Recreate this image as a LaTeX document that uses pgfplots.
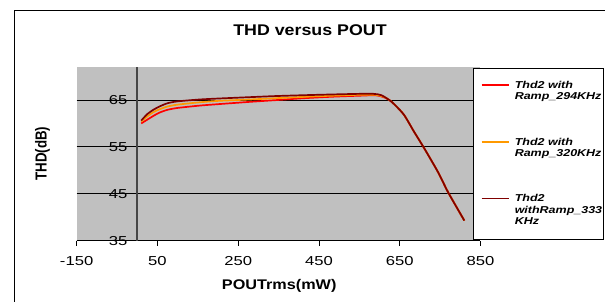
\documentclass[border=0pt]{standalone}
\usepackage{fontspec}
\setmainfont{Liberation Sans}
\newfontfamily\titlefont[FakeStretch=1.15]{Liberation Sans}
\newfontfamily\labfont[FakeStretch=1.16]{Liberation Sans}
\newfontfamily\tickfont[FakeStretch=1.28]{Liberation Sans}
\newfontfamily\legfont[FakeStretch=1.25]{Liberation Sans}
\usepackage{pgfplots}
\pgfplotsset{compat=1.18}
\usepackage{graphicx}
\definecolor{plotgray}{RGB}{192,192,192}
\definecolor{cA}{RGB}{255,0,0}
\definecolor{cB}{RGB}{255,153,0}
\definecolor{cC}{RGB}{128,0,0}
\definecolor{yaxgray}{RGB}{70,70,70}

\pgfplotstableread{
x y
10 60.0
25 60.8
40 61.6
55 62.3
75 62.9
100 63.3
155 63.8
200 64.1
280 64.6
350 65.0
400 65.3
450 65.55
500 65.75
550 65.9
590 66.0
610 65.6
630 64.6
660 61.9
685 58.3
710 54.8
745 49.6
770 45.3
810 39.3
}\tA

\pgfplotstableread{
x y
10 60.4
25 61.5
40 62.4
55 63.0
75 63.6
100 64.0
155 64.5
200 64.8
280 65.1
350 65.4
450 65.8
550 66.1
590 66.1
610 65.7
630 64.6
660 61.9
685 58.3
710 54.8
745 49.6
770 45.3
810 39.3
}\tB

\pgfplotstableread{
x y
10 60.6
25 62.0
40 62.9
55 63.6
75 64.3
100 64.7
155 65.1
200 65.3
280 65.6
350 65.85
450 66.1
550 66.3
585 66.3
605 66.0
630 64.6
660 61.9
685 58.3
710 54.8
745 49.6
770 45.3
810 39.3
}\tC

\begin{document}
\begin{tikzpicture}[x=1pt,y=1pt]
\path (0,0) rectangle (606,302);
\draw[line width=1.3pt] (14.3,0) -- (14.3,291.3) -- (606,291.3);
\node[anchor=base, inner sep=0pt, font=\titlefont\fontsize{15.5}{18}\bfseries\selectfont] at (310.3,266.3) {THD versus POUT};
\node[anchor=base, inner sep=0pt, font=\labfont\fontsize{14}{16}\bfseries\selectfont] at (279.5,12) {POUTrms(mW)};
\node[anchor=base, inner sep=0pt, rotate=90, font=\fontsize{13.3}{15}\bfseries\selectfont] at (46.7,148.3) {\scalebox{1}[1.2]{THD(dB)}};
\begin{axis}[
  at={(76.7pt,61pt)}, anchor=south west,
  scale only axis, width=404.3pt, height=174.3pt,
  xmin=-150, xmax=850, ymin=35, ymax=72.1,
  axis x line=bottom, axis y line=left,
  x axis line style={-, black, line width=0.8pt},
  y axis line style={draw=none},
  xtick={-150,50,250,450,650,850}, ytick={35,45,55,65},
  tick align=outside, major tick length=5pt,
  xtick style={black, line width=0.8pt},
  ytick style={draw=none},
  ymajorgrids, grid style={black, line width=0.8pt},
  axis background/.style={fill=plotgray},
  clip=false,
  /pgf/number format/assume math mode=true,
  ticklabel style={font=\tickfont\fontsize{13}{15}\selectfont},
  xticklabel style={inner sep=0pt, yshift=-11pt},
  yticklabel style={anchor=east, inner sep=0pt, xshift=56pt},
  legend style={at={(1.0,0.9214)}, anchor=north west, draw=none, fill=none,
    inner sep=0pt, row sep=47.3pt, column sep=5pt,
    font=\legfont\fontsize{10}{11.3}\bfseries\itshape\selectfont,
    nodes={inner sep=0pt}, cells={anchor=base west}},
  legend image code/.code={\draw[#1, line width=1.8pt] (0pt,3.3pt) -- (27.3pt,3.3pt);},
]
\draw[yaxgray, line width=1.5pt] (axis cs:0,35) -- (axis cs:0,72.1);
\draw[black, line width=0.8pt, fill=white] (axis cs:833.4,35.21) rectangle (axis cs:1155.5,71.74);
\addplot[cA, line width=1.7pt, smooth, tension=0.4] table[x=x,y=y] {\tA};
\addlegendentry{\begin{tabular}[t]{@{}l@{}}Thd2 with\\Ramp\_294KHz\end{tabular}}
\addplot[cB, line width=1.7pt, smooth, tension=0.4] table[x=x,y=y] {\tB};
\addlegendentry{\begin{tabular}[t]{@{}l@{}}Thd2 with\\Ramp\_320KHz\end{tabular}}
\addplot[cC, line width=1.7pt, smooth, tension=0.4] table[x=x,y=y] {\tC};
\addlegendentry{\begin{tabular}[t]{@{}l@{}}Thd2\\withRamp\_333\\KHz\end{tabular}}
\end{axis}
\end{tikzpicture}
\end{document}
